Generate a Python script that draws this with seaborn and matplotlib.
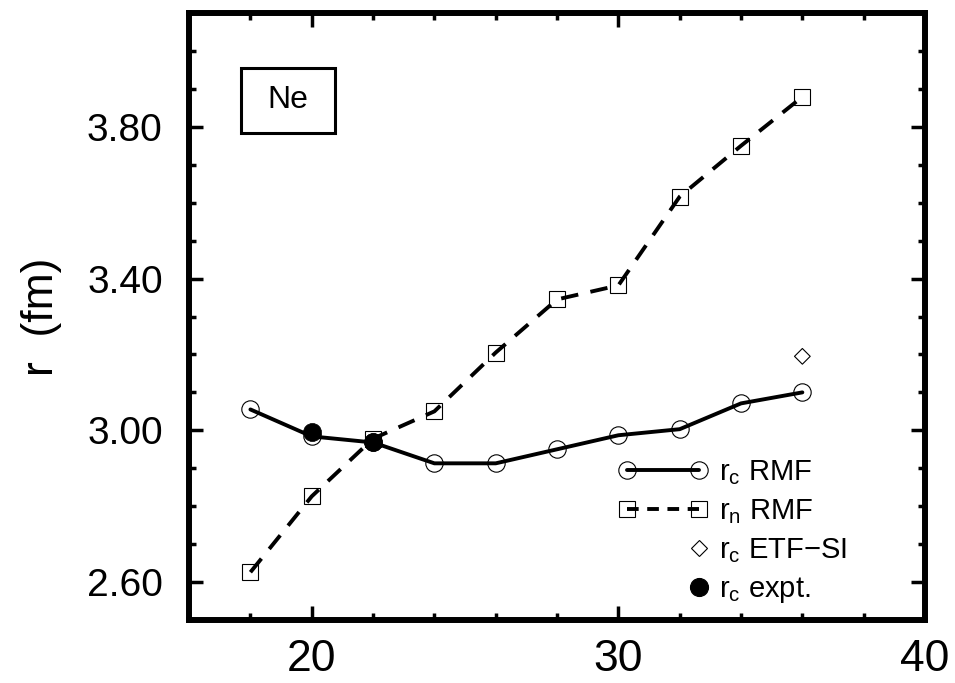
import matplotlib
matplotlib.use("Agg")
import matplotlib.pyplot as plt
from matplotlib.lines import Line2D
from matplotlib.patches import Rectangle
from matplotlib.legend_handler import HandlerLine2D
from matplotlib.ticker import MultipleLocator, FormatStrFormatter
import seaborn as sns
import pandas as pd

# Neon isotopes: mass number A
mass_number = [18, 20, 22, 24, 26, 28, 30, 32, 34, 36]
# charge radius, RMF
rc_rmf = [3.055, 2.984, 2.968, 2.913, 2.913, 2.950, 2.987, 3.003, 3.071, 3.100]
# neutron radius, RMF
rn_rmf = [2.626, 2.826, 2.978, 3.050, 3.205, 3.345, 3.382, 3.616, 3.750, 3.879]
# charge radius, ETF-SI
etf_a = [36]
rc_etf = [3.195]
# measured charge radii
expt_a = [20, 22]
rc_expt = [2.995, 2.968]


class RightMarkerHandler(HandlerLine2D):
    """Legend handler that draws a single marker at the right end of the handle."""

    def create_artists(self, legend, orig_handle, xdescent, ydescent,
                       width, height, fontsize, trans):
        artists = super().create_artists(legend, orig_handle, xdescent, ydescent,
                                         width, height, fontsize, trans)
        for a in artists:
            if isinstance(a, Line2D):
                a.set_markevery([len(a.get_xdata()) - 1])
        return artists


sns.set_style("ticks")
plt.rcParams["font.family"] = ["Liberation Sans", "DejaVu Sans"]
plt.rcParams["mathtext.fontset"] = "custom"
plt.rcParams["mathtext.rm"] = "Liberation Sans"
plt.rcParams["text.color"] = "black"
plt.rcParams["axes.labelcolor"] = "black"
plt.rcParams["xtick.color"] = "black"
plt.rcParams["ytick.color"] = "black"
plt.rcParams["axes.edgecolor"] = "black"

df = pd.DataFrame({"A": mass_number, "rc": rc_rmf, "rn": rn_rmf})

fig = plt.figure(figsize=(9.55, 6.83), dpi=100)
ax = fig.add_axes([0.198, 0.0922, 0.7706, 0.8888])

lw = 2.8
sns.lineplot(data=df, x="A", y="rc", ax=ax, color="black", lw=lw, marker="o",
             markersize=12.5, markerfacecolor="none", markeredgecolor="black",
             markeredgewidth=0.8, sort=False, estimator=None)
sns.lineplot(data=df, x="A", y="rn", ax=ax, color="black", lw=lw, marker="s",
             markersize=11.5, markerfacecolor="none", markeredgecolor="black",
             markeredgewidth=0.8, sort=False, estimator=None)
ax.lines[-1].set_dashes((4.5, 3.2))
sns.scatterplot(x=etf_a, y=rc_etf, ax=ax, marker="D", s=8 ** 2,
                facecolor="none", edgecolor="black", linewidth=0.8)
sns.scatterplot(x=expt_a, y=rc_expt, ax=ax, marker="o", s=13 ** 2,
                color="black", edgecolor="black", linewidth=0.5, zorder=5)

ax.set_xlim(16, 40)
ax.set_ylim(2.5, 4.1)
ax.xaxis.set_major_locator(MultipleLocator(10))
ax.xaxis.set_minor_locator(MultipleLocator(2))
ax.yaxis.set_major_locator(MultipleLocator(0.4))
ax.yaxis.set_minor_locator(MultipleLocator(0.1))
ax.set_yticks([2.6, 3.0, 3.4, 3.8])
ax.yaxis.set_major_formatter(FormatStrFormatter("%.2f"))

for s in ax.spines.values():
    s.set_linewidth(4.3)
    s.set_color("black")
    s.set_visible(True)

ax.tick_params(which="both", direction="in", top=True, right=True, width=2.5,
               color="black", labelcolor="black")
ax.tick_params(which="major", length=10)
ax.tick_params(which="minor", length=5)
ax.tick_params(axis="x", which="major", labelsize=32, pad=14)
ax.tick_params(axis="y", which="major", labelsize=28, pad=19)

ax.set_xlabel("")
ax.set_ylabel("r  (fm)", fontsize=32, labelpad=18, color="black")

# element label in a box
ax.add_patch(Rectangle((0.0708, 0.803), 0.128, 0.1067, transform=ax.transAxes,
                       fill=False, edgecolor="black", lw=2.2, zorder=6))
ax.text(0.0708 + 0.064, 0.803 + 0.0533, "Ne", transform=ax.transAxes,
        fontsize=23, ha="center", va="center", color="black")

ms_kw = dict(markeredgecolor="black", markeredgewidth=0.8)
h_rc = Line2D([], [], color="black", lw=lw, marker="o", markersize=12.5,
              markerfacecolor="none", **ms_kw)
h_rn = Line2D([], [], color="black", lw=lw, marker="s", markersize=11.5,
              markerfacecolor="none", dashes=(3, 2.2), **ms_kw)
h_etf = Line2D([], [], ls="none", marker="D", markersize=8,
               markerfacecolor="none", **ms_kw)
h_exp = Line2D([], [], ls="none", marker="o", markersize=13,
               markerfacecolor="black", **ms_kw)
labels = [r"$\mathregular{r_c}$ RMF", r"$\mathregular{r_n}$ RMF",
          r"$\mathregular{r_c}$ ETF$-$SI", r"$\mathregular{r_c}$ expt."]
ax.legend([h_rc, h_rn, h_etf, h_exp], labels, loc="upper left",
          bbox_to_anchor=(0.583, 0.267), frameon=False, fontsize=21,
          numpoints=2, handlelength=3.07, handletextpad=0.4,
          labelspacing=0.35, borderpad=0, borderaxespad=0,
          handler_map={h_etf: RightMarkerHandler(),
                       h_exp: RightMarkerHandler()})

fig.savefig("out.png", dpi=100)
